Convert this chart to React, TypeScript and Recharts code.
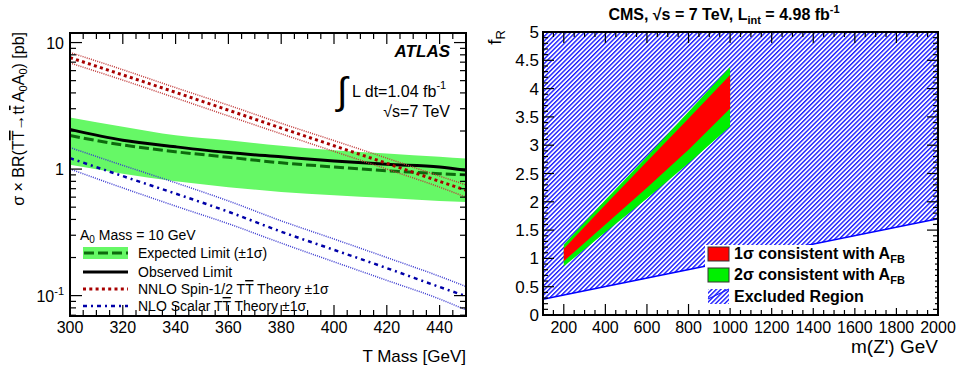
import React from "react";
import { ComposedChart, Area, Line, XAxis, YAxis } from "recharts";

const FONT = "'Liberation Sans', Arial, Helvetica, sans-serif";

// ---- left panel: ATLAS, sigma x BR limit vs T mass (pb, log scale) ----
const tMass = [300, 320, 340, 360, 380, 400, 420, 440, 450];
const expBandLow = [1.08, 0.92, 0.8, 0.72, 0.66, 0.62, 0.59, 0.56, 0.55];
const expBandHigh = [2.56, 2.16, 1.85, 1.69, 1.53, 1.41, 1.33, 1.25, 1.21];
const expectedLimit = [1.84, 1.55, 1.37, 1.24, 1.12, 1.04, 0.97, 0.92, 0.9];
const observedLimit = [2.06, 1.69, 1.5, 1.35, 1.25, 1.16, 1.09, 1.04, 0.98];
const nnloSpinHalf = [7.6, 5.55, 4.04, 2.92, 2.11, 1.53, 1.11, 0.8, 0.68];
const nnloSpinHalfUp = [8.35, 6.1, 4.4, 3.2, 2.3, 1.68, 1.22, 0.88, 0.75];
const nnloSpinHalfDown = [6.9, 5.05, 3.65, 2.63, 1.9, 1.38, 1.0, 0.72, 0.6];
const nloScalar = [1.22, 0.88, 0.64, 0.46, 0.32, 0.23, 0.165, 0.117, 0.099];
const nloScalarUp = [1.48, 1.07, 0.78, 0.56, 0.39, 0.28, 0.2, 0.142, 0.118];
const nloScalarDown = [1.0, 0.71, 0.51, 0.37, 0.26, 0.185, 0.132, 0.094, 0.077];

// ---- right panel: CMS, f_R vs m(Z') ----
const zMass = [200, 400, 600, 800, 1000];
const twoSigmaHigh = [1.24, 2.03, 2.8, 3.59, 4.38];
const oneSigmaHigh = [1.17, 1.95, 2.71, 3.47, 4.24];
const oneSigmaLow = [0.95, 1.6, 2.25, 2.92, 3.65];
const twoSigmaLow = [0.86, 1.46, 2.06, 2.68, 3.33];
const exclMass = [100, 2000];
const exclBoundary = [0.28, 1.7];
const exclTop = [5, 5];

// tick labels
const tMassLabels = [300, 320, 340, 360, 380, 400, 420, 440];
const xsecDecades = [0.1, 1, 10];
const zMassLabels = [200, 400, 600, 800, 1000, 1200, 1400, 1600, 1800, 2000];
const fRLabels = [0, 0.5, 1, 1.5, 2, 2.5, 3, 3.5, 4, 4.5, 5];

// minor ticks, subdivisions of the labelled ones
const tMassTicks = Array.from({ length: 31 }, (_, i) => 300 + 5 * i);
const xsecTicks = [0.07, 0.08, 0.09].concat(
  ...xsecDecades.map((d) => (d === 10 ? [10] : [1, 2, 3, 4, 5, 6, 7, 8, 9].map((k) => (k === 1 ? d : k * d))))
);
const zMassTicks = Array.from({ length: 39 }, (_, i) => 100 + 50 * i);
const fRTicks = Array.from({ length: 51 }, (_, i) => i / 10);

const atlasRows = tMass.map((m, i) => ({
  m,
  band: [expBandLow[i], expBandHigh[i]],
  exp: expectedLimit[i],
  obs: observedLimit[i],
  nnlo: nnloSpinHalf[i],
  nnloUp: nnloSpinHalfUp[i],
  nnloDown: nnloSpinHalfDown[i],
  nlo: nloScalar[i],
  nloUp: nloScalarUp[i],
  nloDown: nloScalarDown[i],
}));

const twoSigmaRows = zMass.map((z, i) => ({ z, band: [twoSigmaLow[i], twoSigmaHigh[i]] }));
const oneSigmaRows = zMass.map((z, i) => ({ z, band: [oneSigmaLow[i], oneSigmaHigh[i]] }));
const exclRows = exclMass.map((z, i) => ({ z, band: [exclBoundary[i], exclTop[i]], edge: exclBoundary[i] }));

// plot frames (left chart in page coords, right chart in its own coords)
const A = { w: 480, h: 369, top: 33, bottom: 316, left: 70, right: 466 };
const C = { x0: 480, w: 483, h: 369, top: 32, bottom: 315, left: 63, right: 458 };

const RED = "#a80000";
const RED_LIGHT = "#c03a3a";
const BLUE = "#0000a8";
const BLUE_LIGHT = "#3a3ad0";
const BAND = "#66f866";
const EXP_GREEN = "#0d6a0d";
const HATCH_BLUE = "#1a1aff";

function AtlasXTick({ x, payload }: any) {
  const v = payload.value;
  const major = v % 20 === 0;
  const len = major ? 11 : 6;
  return (
    <g>
      <line x1={x} x2={x} y1={A.bottom} y2={A.bottom - len} stroke="#000" strokeWidth={1.2} />
      <line x1={x} x2={x} y1={A.top} y2={A.top + len} stroke="#000" strokeWidth={1.2} />
      {tMassLabels.includes(v) && (
        <text x={x} y={333} textAnchor="middle" fontSize={16} fontFamily={FONT} fill="#000">
          {v}
        </text>
      )}
    </g>
  );
}

function AtlasYTick({ y, payload }: any) {
  const v = payload.value;
  const major = xsecDecades.includes(v);
  const len = major ? 12 : 6;
  return (
    <g>
      <line x1={A.left} x2={A.left + len} y1={y} y2={y} stroke="#000" strokeWidth={1.2} />
      <line x1={A.right} x2={A.right - len} y1={y} y2={y} stroke="#000" strokeWidth={1.2} />
      {major &&
        (v === 0.1 ? (
          <text x={64} y={y + 6} textAnchor="end" fontSize={16} fontFamily={FONT} fill="#000">
            10<tspan dy={-7} fontSize={11}>-1</tspan>
          </text>
        ) : (
          <text x={64} y={y + 6} textAnchor="end" fontSize={16} fontFamily={FONT} fill="#000">
            {v}
          </text>
        ))}
    </g>
  );
}

function CmsXTick({ x, payload }: any) {
  const v = payload.value;
  const major = v % 200 === 0;
  const len = major ? 11 : 5;
  return (
    <g>
      <line x1={x} x2={x} y1={C.bottom} y2={C.bottom - len} stroke="#000" strokeWidth={1.2} />
      <line x1={x} x2={x} y1={C.top} y2={C.top + len} stroke="#000" strokeWidth={1.2} />
      {zMassLabels.includes(v) && (
        <text x={x} y={333} textAnchor="middle" fontSize={16} fontFamily={FONT} fill="#000">
          {v}
        </text>
      )}
    </g>
  );
}

function CmsYTick({ y, payload }: any) {
  const v = payload.value;
  const major = fRLabels.includes(v);
  const len = major ? 11 : 5;
  return (
    <g>
      <line x1={C.left} x2={C.left + len} y1={y} y2={y} stroke="#000" strokeWidth={1.2} />
      <line x1={C.right} x2={C.right - len} y1={y} y2={y} stroke="#000" strokeWidth={1.2} />
      {major && (
        <text x={59} y={y + 6} textAnchor="end" fontSize={17} fontFamily={FONT} fill="#000">
          {v}
        </text>
      )}
    </g>
  );
}

function AtlasPanel() {
  return (
    <ComposedChart
      width={A.w}
      height={A.h}
      data={atlasRows}
      margin={{ top: A.top, right: A.w - A.right, bottom: 0, left: 0 }}
    >
      <XAxis
        dataKey="m"
        type="number"
        domain={[300, 450]}
        ticks={tMassTicks}
        interval={0}
        height={A.h - A.bottom}
        axisLine={false}
        tickLine={false}
        tick={(p: any) => <AtlasXTick {...p} />}
      />
      <YAxis
        type="number"
        scale="log"
        domain={[0.069, 11.9]}
        allowDataOverflow
        ticks={xsecTicks}
        interval={0}
        width={A.left}
        axisLine={false}
        tickLine={false}
        tick={(p: any) => <AtlasYTick {...p} />}
      />
      <Area type="monotone" dataKey="band" fill={BAND} fillOpacity={1} stroke="none" isAnimationActive={false} />
      <Line type="monotone" dataKey="exp" stroke={EXP_GREEN} strokeWidth={3} strokeDasharray="10 4" dot={false} isAnimationActive={false} />
      <Line type="monotone" dataKey="obs" stroke="#000" strokeWidth={3} dot={false} isAnimationActive={false} />
      <Line type="monotone" dataKey="nloUp" stroke={BLUE_LIGHT} strokeWidth={1.5} strokeDasharray="1 1.2" dot={false} isAnimationActive={false} />
      <Line type="monotone" dataKey="nloDown" stroke={BLUE_LIGHT} strokeWidth={1.5} strokeDasharray="1 1.2" dot={false} isAnimationActive={false} />
      <Line type="monotone" dataKey="nlo" stroke={BLUE} strokeWidth={2.5} strokeDasharray="4 4 2 4" dot={false} isAnimationActive={false} />
      <Line type="monotone" dataKey="nnloUp" stroke={RED_LIGHT} strokeWidth={1.5} strokeDasharray="1 1.2" dot={false} isAnimationActive={false} />
      <Line type="monotone" dataKey="nnloDown" stroke={RED_LIGHT} strokeWidth={1.5} strokeDasharray="1 1.2" dot={false} isAnimationActive={false} />
      <Line type="monotone" dataKey="nnlo" stroke={RED} strokeWidth={3} strokeDasharray="3 3.3" dot={false} isAnimationActive={false} />
    </ComposedChart>
  );
}

function CmsPanel() {
  return (
    <ComposedChart
      width={C.w}
      height={C.h}
      margin={{ top: C.top, right: C.w - C.right, bottom: 0, left: 0 }}
    >
      <XAxis
        dataKey="z"
        type="number"
        domain={[100, 2000]}
        ticks={zMassTicks}
        interval={0}
        height={C.h - C.bottom}
        axisLine={false}
        tickLine={false}
        tick={(p: any) => <CmsXTick {...p} />}
      />
      <YAxis
        type="number"
        domain={[0, 5]}
        ticks={fRTicks}
        interval={0}
        width={C.left}
        axisLine={false}
        tickLine={false}
        tick={(p: any) => <CmsYTick {...p} />}
      />
      <Area data={exclRows} type="linear" dataKey="band" fill="url(#cmsHatch)" fillOpacity={1} stroke="none" isAnimationActive={false} />
      <Line data={exclRows} type="linear" dataKey="edge" stroke="#0000ff" strokeWidth={1.5} dot={false} isAnimationActive={false} />
      <Area data={twoSigmaRows} type="linear" dataKey="band" fill="#00f000" fillOpacity={1} stroke="none" isAnimationActive={false} />
      <Area data={oneSigmaRows} type="linear" dataKey="band" fill="#ff0000" fillOpacity={1} stroke="none" isAnimationActive={false} />
    </ComposedChart>
  );
}

function Overlay() {
  const txt = { fontFamily: FONT, fill: "#000" };
  const cx = (v: number) => C.x0 + v;
  return (
    <svg width={963} height={369} style={{ position: "absolute", left: 0, top: 0, pointerEvents: "none" }}>
      {/* ATLAS frame and labels */}
      <rect x={A.left} y={A.top} width={A.right - A.left} height={A.bottom - A.top} fill="none" stroke="#000" strokeWidth={2} />
      <text {...txt} x={A.right} y={362} textAnchor="end" fontSize={17}>
        T Mass [GeV]
      </text>
      <text {...txt} transform={`translate(24,32) rotate(-90)`} textAnchor="end" fontSize={16}>
        σ × BR(T<tspan style={{ textDecoration: "overline" }}>T</tspan>→t<tspan style={{ textDecoration: "overline" }}>t</tspan> A
        <tspan dy={3} fontSize={11}>0</tspan>
        <tspan dy={-3}>A</tspan>
        <tspan dy={3} fontSize={11}>0</tspan>
        <tspan dy={-3}>) [pb]</tspan>
      </text>
      <text {...txt} x={450} y={57} textAnchor="end" fontSize={17} fontWeight="bold" fontStyle="italic">
        ATLAS
      </text>
      <text {...txt} x={337} y={104} fontSize={38}>
        ∫
      </text>
      <text {...txt} x={352} y={97} fontSize={16}>
        L dt=1.04 fb<tspan dy={-8} fontSize={11}>-1</tspan>
      </text>
      <text {...txt} x={450} y={117} textAnchor="end" fontSize={16}>
        √s=7 TeV
      </text>

      {/* ATLAS legend */}
      <text {...txt} x={80} y={240} fontSize={14}>
        A<tspan dy={3} fontSize={10}>0</tspan>
        <tspan dy={-3}> Mass = 10 GeV</tspan>
      </text>
      <rect x={83} y={247} width={45} height={12} fill={BAND} />
      <line x1={84} x2={128} y1={253} y2={253} stroke={EXP_GREEN} strokeWidth={3} strokeDasharray="10 4" />
      <line x1={83} x2={128} y1={272} y2={272} stroke="#000" strokeWidth={3} />
      <line x1={83} x2={128} y1={289} y2={289} stroke={RED} strokeWidth={3} strokeDasharray="3 3.3" />
      <line x1={83} x2={128} y1={306} y2={306} stroke={BLUE} strokeWidth={2.5} strokeDasharray="4 4 2 4" />
      <text {...txt} x={138} y={258} fontSize={14}>
        Expected Limit (±1σ)
      </text>
      <text {...txt} x={138} y={277} fontSize={14}>
        Observed Limit
      </text>
      <text {...txt} x={138} y={294} fontSize={14}>
        NNLO Spin-1/2 T<tspan style={{ textDecoration: "overline" }}>T</tspan> Theory ±1σ
      </text>
      <text {...txt} x={138} y={311} fontSize={14}>
        NLO Scalar T<tspan style={{ textDecoration: "overline" }}>T</tspan> Theory ±1σ
      </text>

      {/* CMS frame and labels */}
      <rect x={cx(C.left)} y={C.top} width={C.right - C.left} height={C.bottom - C.top} fill="none" stroke="#000" strokeWidth={2} />
      <text {...txt} x={724} y={20} textAnchor="middle" fontSize={16} fontWeight="bold">
        CMS, √s = 7 TeV, L<tspan dy={4} fontSize={11}>int</tspan>
        <tspan dy={-4}> = 4.98 fb</tspan>
        <tspan dy={-7} fontSize={11}>-1</tspan>
      </text>
      <text {...txt} transform={`translate(501,30) rotate(-90)`} textAnchor="end" fontSize={19}>
        f<tspan dy={4} fontSize={13}>R</tspan>
      </text>
      <text {...txt} x={cx(C.right)} y={353} textAnchor="end" fontSize={19}>
        m(Z') GeV
      </text>

      {/* CMS legend */}
      <rect x={705} y={245} width={230} height={63} fill="#fff" />
      <rect x={708} y={247} width={21} height={14} fill="#ff0000" stroke="#333" strokeWidth={1} />
      <rect x={708} y={268} width={21} height={14} fill="#00f000" stroke="#333" strokeWidth={1} />
      <rect x={708} y={289} width={21} height={15} fill="url(#cmsHatch)" />
      <line x1={708} x2={729} y1={299} y2={289} stroke={HATCH_BLUE} strokeWidth={1.2} />
      <text {...txt} x={734} y={259} fontSize={16} fontWeight="bold">
        1σ consistent with A<tspan dy={4} fontSize={11}>FB</tspan>
      </text>
      <text {...txt} x={734} y={280} fontSize={16} fontWeight="bold">
        2σ consistent with A<tspan dy={4} fontSize={11}>FB</tspan>
      </text>
      <text {...txt} x={734} y={302} fontSize={16} fontWeight="bold">
        Excluded Region
      </text>
    </svg>
  );
}

export default function App() {
  return (
    <div style={{ position: "absolute", left: 0, top: 0, width: 963, height: 369, background: "#fff" }}>
      <svg width={0} height={0} style={{ position: "absolute" }}>
        <defs>
          <pattern id="cmsHatch" patternUnits="userSpaceOnUse" width={3.2} height={3.2} patternTransform="rotate(45)">
            <rect x={0} y={0} width={1.4} height={3.2} fill={HATCH_BLUE} />
          </pattern>
        </defs>
      </svg>
      <div style={{ position: "absolute", left: 0, top: 0 }}>
        <AtlasPanel />
      </div>
      <div style={{ position: "absolute", left: C.x0, top: 0 }}>
        <CmsPanel />
      </div>
      <Overlay />
    </div>
  );
}
